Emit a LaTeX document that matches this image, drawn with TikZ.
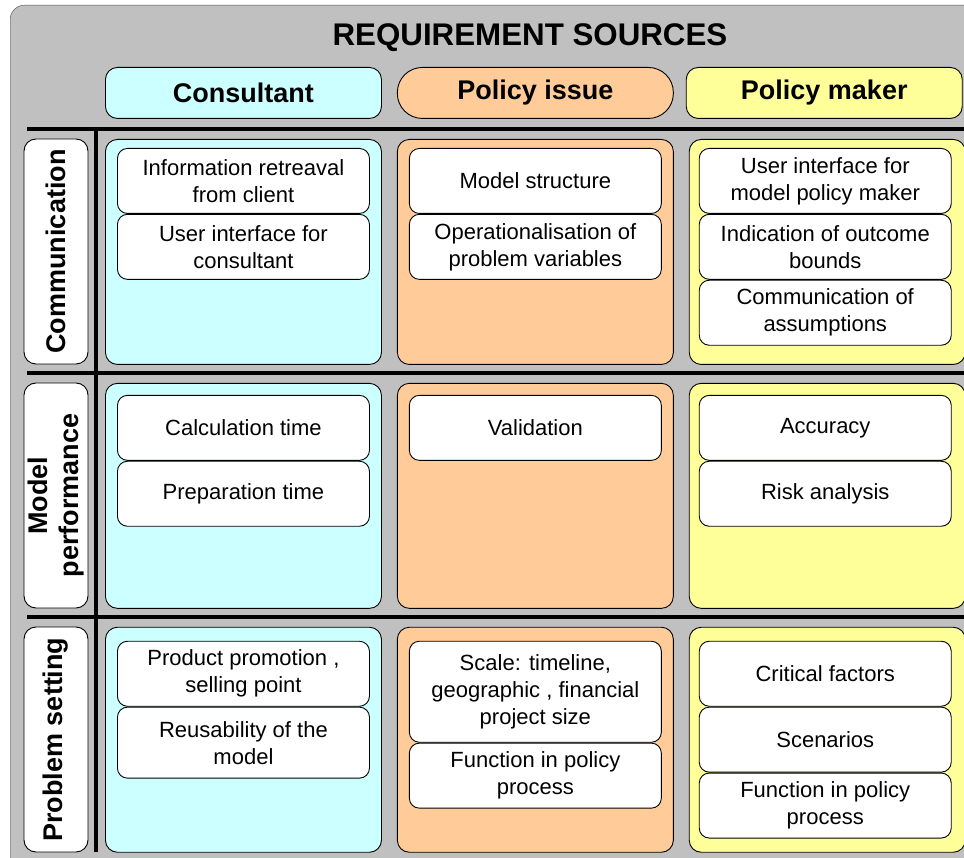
\documentclass[tikz,border=0pt]{standalone}
\usepackage{fontspec}
\setmainfont{Liberation Sans}
\usepackage{tikz}
\usetikzlibrary{positioning}
\definecolor{frmgray}{HTML}{C0C0C0}
\definecolor{concol}{HTML}{CCFFFF}
\definecolor{polcol}{HTML}{FFCC99}
\definecolor{makcol}{HTML}{FFFF99}

\begin{document}
\begin{tikzpicture}

	\tikzstyle{hdr}=[draw=black, line width=0.9pt, rounded corners=12pt, minimum width=276pt, minimum height=51pt, inner sep=0, anchor=north west, font=\bfseries\fontsize{27}{30}\selectfont];
	\tikzstyle{cell}=[draw=black, line width=0.9pt, rounded corners=12pt, minimum width=276pt, minimum height=225pt, inner sep=0, anchor=north west];
	\tikzstyle{lbl}=[draw=black, line width=0.9pt, fill=white, rounded corners=12pt, rotate=90, minimum width=225pt, minimum height=64pt, inner sep=0, align=center, font=\bfseries\fontsize{27}{31}\selectfont];
	\tikzstyle{req}=[draw=black, line width=0.9pt, fill=white, rounded corners=10pt, minimum width=252pt, minimum height=65pt, inner sep=0, align=center, font=\fontsize{22}{27}\selectfont];
	\tikzstyle{bar}=[line width=4pt];

	\useasboundingbox (0,0) rectangle (964pt,-858pt);
	\clip (0,0) rectangle (964pt,-858pt);

	\node (frame) [draw=black!70, fill=frmgray, rounded corners=14pt, minimum width=990pt, minimum height=890pt, anchor=north west, inner sep=0] at (10pt,-5pt) {};
	\node (title) at (530pt,-38pt) {\bfseries\fontsize{31.3}{35}\selectfont REQUIREMENT SOURCES};

	% column heads
	\node (con head) [hdr, fill=concol] at (105pt,-67pt) {Consultant};
	\node (pol head) [hdr, fill=polcol, rounded corners=25pt, right=15pt of con head] {Policy issue};
	\node (mak head) [hdr, fill=makcol, right=12pt of pol head] {Policy maker};

	% row labels
	\node (com label) [lbl] at (56pt,-251.5pt) {Communication};
	\node (per label) [lbl] at (56pt,-495.5pt) {Model\\performance};
	\node (set label) [lbl] at (56pt,-739.5pt) {Problem setting};

	% cells
	\node (con com) [cell, fill=concol] at (105pt,-139pt) {};
	\node (pol com) [cell, fill=polcol, right=15pt of con com] {};
	\node (mak com) [cell, fill=makcol, right=15pt of pol com] {};
	\node (con per) [cell, fill=concol, below=18pt of con com] {};
	\node (pol per) [cell, fill=polcol, below=18pt of pol com] {};
	\node (mak per) [cell, fill=makcol, below=18pt of mak com] {};
	\node (con set) [cell, fill=concol, below=18pt of con per] {};
	\node (pol set) [cell, fill=polcol, below=18pt of pol per] {};
	\node (mak set) [cell, fill=makcol, below=18pt of mak per] {};

	% dividers
	\draw [bar] (27pt,-129pt) -- (966pt,-129pt);
	\draw [bar] (27pt,-373pt) -- (966pt,-373pt);
	\draw [bar] (27pt,-617pt) -- (966pt,-617pt);
	\draw [bar] (96pt,-127pt) -- (96pt,-852pt);

	% communication
	\node (con com 1) [req, below right=9pt and 12pt of con com.north west] {Information retreaval\\from client};
	\node (con com 2) [req, below=0pt of con com 1] {User interface for\\consultant};
	\node (pol com 1) [req, below right=9pt and 12pt of pol com.north west] {Model structure};
	\node (pol com 2) [req, below=0pt of pol com 1] {Operationalisation of\\problem variables};
	\node (mak com 1) [req, below right=9pt and 10pt of mak com.north west] {User interface for\\model policy maker};
	\node (mak com 2) [req, below=0pt of mak com 1] {Indication of outcome\\bounds};
	\node (mak com 3) [req, below=0pt of mak com 2] {Communication of\\assumptions};

	% model performance
	\node (con per 1) [req, below right=12pt and 12pt of con per.north west] {Calculation time};
	\node (con per 2) [req, below=0pt of con per 1] {Preparation time};
	\node (pol per 1) [req, below right=12pt and 12pt of pol per.north west] {Validation};
	\node (mak per 1) [req, below right=12pt and 10pt of mak per.north west] {Accuracy};
	\node (mak per 2) [req, below=0pt of mak per 1] {Risk analysis};

	% problem setting
	\node (con set 1) [req, below right=14pt and 12pt of con set.north west] {Product promotion ,\\selling point};
	\node (con set 2) [req, minimum height=71pt, below=0pt of con set 1] {Reusability of the\\model};
	\node (pol set 1) [req, minimum height=101pt, below right=14pt and 12pt of pol set.north west] {Scale: timeline,\\geographic , financial\\project size};
	\node (pol set 2) [req, below=0pt of pol set 1] {Function in policy\\process};
	\node (mak set 1) [req, below right=14pt and 10pt of mak set.north west] {Critical factors};
	\node (mak set 2) [req, below=0pt of mak set 1] {Scenarios};
	\node (mak set 3) [req, below=0pt of mak set 2] {Function in policy\\process};

\end{tikzpicture}
\end{document}
